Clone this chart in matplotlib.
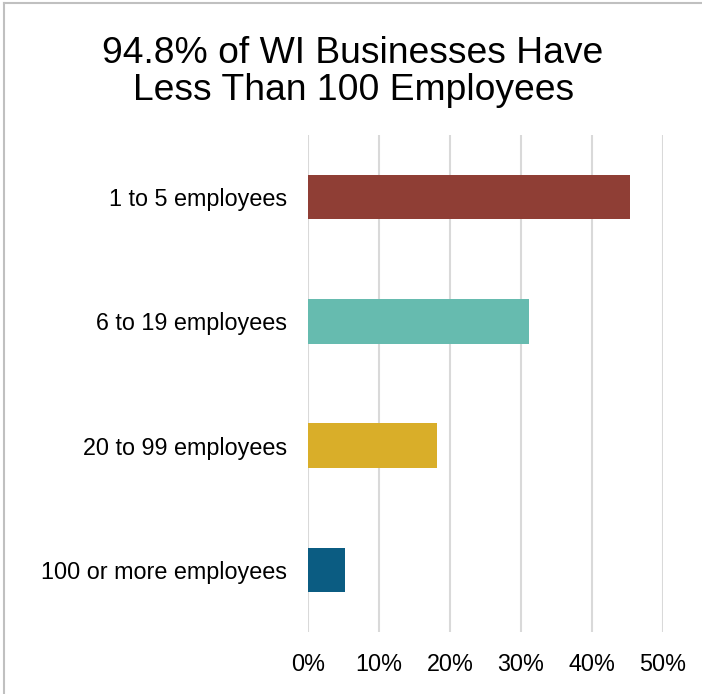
import matplotlib.pyplot as plt
from matplotlib.lines import Line2D

categories = ["1 to 5 employees", "6 to 19 employees", "20 to 99 employees", "100 or more employees"]
shares = [45.4, 31.2, 18.2, 5.2]
colors = ["#8F3E35", "#66BBAF", "#D9AE29", "#0B5C82"]
ticks = [0, 10, 20, 30, 40, 50]
tick_labels = ["0%", "10%", "20%", "30%", "40%", "50%"]

plt.rcParams["font.family"] = ["Liberation Sans", "DejaVu Sans"]

fig = plt.figure(figsize=(7.02, 6.94), dpi=100)
ax = fig.add_axes([0.4387, 0.0893, 0.9444 - 0.4387, 0.8055 - 0.0893])

pos = list(range(len(categories)))
ax.barh(pos, shares, height=0.36, color=colors, zorder=3)
ax.set_ylim(len(categories) - 0.5, -0.5)
ax.set_xlim(0, 50)
ax.set_yticks(pos)
ax.set_yticklabels(categories, fontsize=16.8)
ax.set_xticks(ticks)
ax.set_xticklabels(tick_labels, fontsize=16.8)
ax.tick_params(length=0, pad=15, axis="x")
ax.tick_params(length=0, pad=15, axis="y")
ax.grid(axis="x", color="#D9D9D9", linewidth=1.5, zorder=0)
for s in ax.spines.values():
    s.set_visible(False)

fig.text(0.503, 0.896, "94.8% of WI Businesses Have\nLess Than 100 Employees",
         ha="center", va="center", fontsize=26.8, linespacing=1.07)

# frame at top and left edges of the picture
fig.add_artist(Line2D([0.006, 1], [0.996, 0.996], color="#C0C0C0", lw=1.5, transform=fig.transFigure))
fig.add_artist(Line2D([0.006, 0.006], [0, 0.996], color="#C0C0C0", lw=1.5, transform=fig.transFigure))

fig.savefig("out.png", dpi=100)
